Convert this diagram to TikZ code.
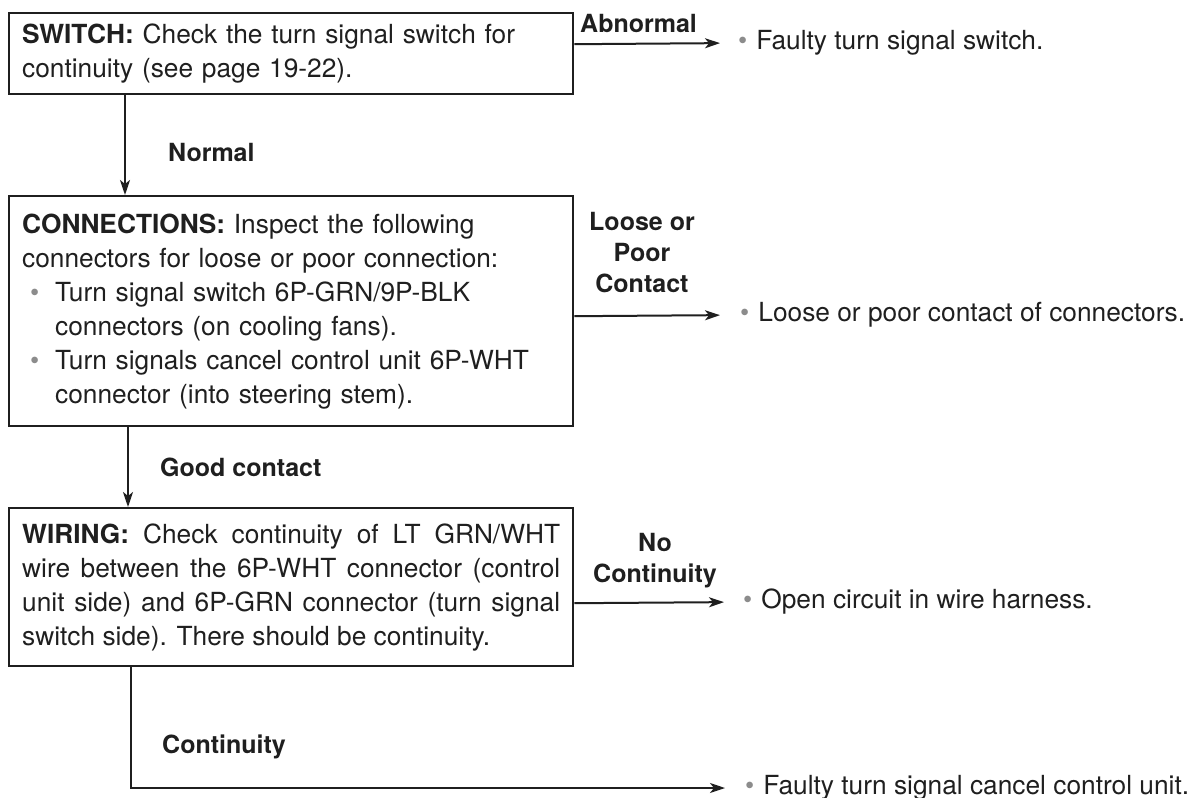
\documentclass[tikz,border=0pt]{standalone}
\usepackage{fontspec}
\setmainfont{TeX Gyre Heros}
\usetikzlibrary{arrows.meta}
\definecolor{ink}{gray}{0.12}
\definecolor{dotgray}{gray}{0.55}
\newcommand{\bodyfont}{\fontsize{26.3}{34}\selectfont}
\newcommand{\labfont}{\fontsize{25}{31}\selectfont\bfseries}
\newcommand{\bul}{\textcolor{dotgray}{\textbullet}}
\begin{document}
\begin{tikzpicture}[x=1pt,y=-1pt,
  box/.style={draw=ink, line width=2.4pt, anchor=north west, inner xsep=13pt,
    inner ysep=0pt, text width=538pt, font=\bodyfont, text=ink},
  lab/.style={font=\labfont, text=ink, align=center, inner sep=0pt},
  res/.style={anchor=west, font=\bodyfont, text=ink, inner sep=0pt},
  conn/.style={draw=ink, line width=2pt, -{Stealth[length=15pt,width=10pt,inset=4pt]}}
]
\useasboundingbox[fill=white] (0,0) rectangle (1197,798);

% boxes
\node[box, align=left, minimum height=81pt] (sw) at (8,12)
  {\textbf{SWITCH:} Check the turn signal switch for\\continuity (see page 19-22).};
\node[box, align=left, minimum height=230pt] (cn) at (8,195)
  {\textbf{CONNECTIONS:} Inspect the following\\
   connectors for loose or poor connection:\\
   \makebox[33pt][l]{\hspace{8pt}\bul}Turn signal switch 6P-GRN/9P-BLK\\
   \hspace*{33pt}connectors (on cooling fans).\\
   \makebox[33pt][l]{\hspace{8pt}\bul}Turn signals cancel control unit 6P-WHT\\
   \hspace*{33pt}connector (into steering stem).};
\node[box, align=justify, minimum height=158pt] (wr) at (8,507)
  {\textbf{WIRING:} Check continuity of LT GRN/WHT\linebreak
   wire between the 6P-WHT connector (control\linebreak
   unit side) and 6P-GRN connector (turn signal\linebreak
   switch side). There should be continuity.};

% results
\node[res] (r1) at (738,43) {\bul\hspace{9pt}Faulty turn signal switch.};
\node[res] (r2) at (740,315) {\bul\hspace{9pt}Loose or poor contact of connectors.};
\node[res] (r3) at (743,602) {\bul\hspace{9pt}Open circuit in wire harness.};
\node[res] (r4) at (745,788) {\bul\hspace{9pt}Faulty turn signal cancel control unit.};

% labels
\node[lab, anchor=west] (lnormal) at (168,152) {Normal};
\node[lab, anchor=base west] (labn) at (580,32) {Abnormal};
\node[lab] (lloose) at (642,253) {Loose or\\Poor\\Contact};
\node[lab, anchor=west] (lgood) at (160,467) {Good contact};
\node[lab] (lnocont) at (655,561) {No\\Continuity};
\node[lab, anchor=west] (lcont) at (162,747) {Continuity};

% connectors
\draw[conn] ([xshift=117pt]sw.south west) -- ([xshift=117pt]cn.north west);
\draw[conn] ([xshift=120pt]cn.south west) -- ([xshift=120pt]wr.north west);
\draw[conn, shorten >=18pt] ([yshift=9.5pt]sw.east) -- (r1.west);
\draw[conn, shorten >=20pt] ([yshift=-5pt]cn.east) -- (r2.west);
\draw[conn, shorten >=19pt] ([yshift=-16pt]wr.east) -- (r3.west);
\draw[conn, shorten >=20pt] ([xshift=123pt]wr.south west) |- (r4.west);
\end{tikzpicture}
\end{document}
